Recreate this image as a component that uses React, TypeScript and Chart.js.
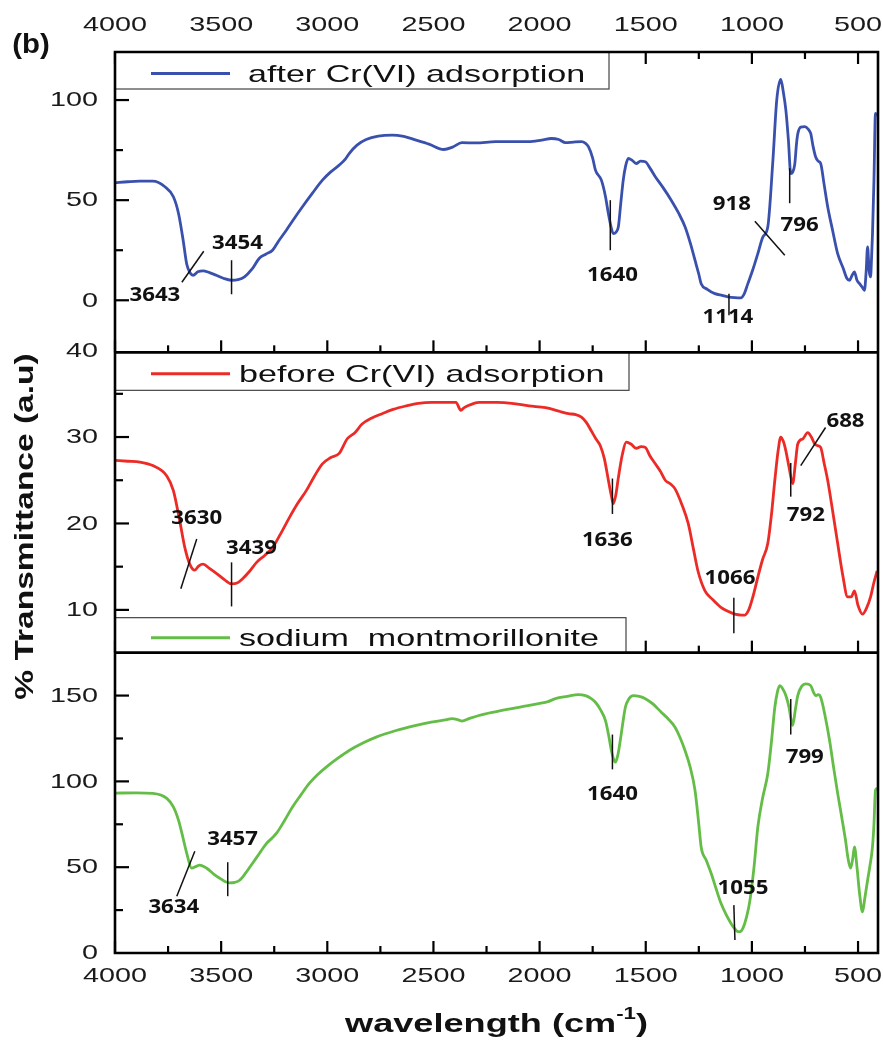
import { useEffect, useRef } from "react";
import { Chart, registerables } from "chart.js";
Chart.register(...registerables);

// ---------- data ----------
const wnAfter = [4000,3940,3883,3822,3765,3725,3700,3679,3662,3645,3632,3610,3585,3555,3523,3490,3453,3420,3390,3355,3320,3290,3258,3230,3193,3155,3117,3070,3023,2985,2944,2915,2897,2860,2817,2760,2695,2640,2582,2521,2451,2410,2366,2300,2207,2130,2052,1990,1944,1910,1878,1840,1803,1785,1770,1750,1737,1709,1690,1676,1662,1653,1640,1629,1618,1606,1595,1582,1565,1545,1525,1502,1480,1455,1420,1380,1345,1315,1290,1268,1250,1239,1210,1174,1140,1113,1080,1052,1035,1019,995,972,948,925,901,883,864,852,840,828,817,808,798,790,784,770,751,735,723,712,700,688,676,660,643,620,596,570,553,540,528,517,505,493,480,470,462,455,448,441,436,432,425,418,410];
const tAfter = [58.7,59.2,59.5,59.5,56.7,51.7,43,30,18,13.5,12.5,14.2,14.7,13.8,12.5,11,10,10.3,11.7,15.5,21,23,25,29.5,35,41,46.7,53.5,60,64,67.5,70.5,73.3,77.5,80.3,82,82.5,81.8,80,78,75.3,76.5,78.7,78.6,79.2,79.2,79.2,80,80.8,80.3,78.7,79,79.2,78.5,76.7,71,65,60,52,43.3,36,33.3,34,36.7,48,60,67,70.8,70,68.3,69.5,69.2,66,61.7,56.5,50,43.5,36.7,28.5,20,13,8.3,5.5,3.3,2.4,1.7,1.3,1.2,3.5,8.3,15.5,23.3,31.7,36.7,70,100,110.3,104,95,80,63.3,64,68,78,83,86.5,86.7,85.5,83.3,77,71.7,69.5,68.3,58,46.7,35,23.3,16,11,10,12.5,14.2,10,8.3,6.5,5,14,26.7,15,11.7,22,33,60,93.3,92];

const wnBefore = [4000,3940,3883,3822,3756,3725,3695,3671,3648,3624,3605,3585,3555,3521,3485,3451,3425,3399,3365,3333,3295,3258,3220,3178,3140,3099,3060,3023,2985,2944,2906,2870,2836,2790,2742,2690,2629,2570,2507,2450,2394,2371,2355,2330,2286,2200,2131,2050,1972,1910,1864,1830,1803,1780,1756,1735,1714,1695,1676,1662,1653,1641,1629,1610,1592,1570,1545,1522,1502,1480,1455,1430,1408,1385,1362,1330,1300,1275,1254,1221,1185,1146,1110,1080,1050,1033,1015,1005,990,972,950,925,908,892,876,864,852,840,825,808,795,784,760,737,720,704,690,676,660,643,620,596,572,549,532,517,500,479,460,441,425,410];
const tBefore = [27.3,27.2,27.1,26.7,25.5,23.8,20.3,17.2,15.3,14.6,15.1,15.3,14.8,14.2,13.5,13.0,13.1,13.6,14.5,15.5,16.3,17.2,18.8,20.7,22.3,23.8,25.5,26.9,27.6,28.1,29.8,30.5,31.5,32.2,32.7,33.2,33.6,33.9,34.0,34.0,34.0,33.1,33.4,33.7,34.0,34.0,33.9,33.6,33.4,33.0,32.7,32.6,32.3,31.7,30.7,29.8,29.0,27.5,25.0,23.2,22.3,23.3,25.3,28.0,29.4,29.2,28.7,28.9,28.8,27.8,26.9,26.0,25.0,24.6,24.0,22.2,20.0,17.0,14.5,12.2,11.2,10.3,9.8,9.5,9.4,9.4,10.0,10.7,12.0,13.8,15.8,17.7,21.0,25.0,28.5,30.0,29.5,28.4,26.5,24.6,27.0,29.2,29.8,30.5,30.0,29.2,29.0,28.8,27.0,25.0,21.5,17.7,14.0,11.5,11.5,12.2,10.5,9.5,10.2,11.5,13.2,14.5];

const wnNaMMT = [4000,3900,3822,3756,3725,3700,3685,3662,3639,3620,3601,3568,3535,3507,3480,3460,3435,3413,3385,3352,3320,3286,3260,3239,3200,3164,3125,3085,3045,3005,2950,2897,2830,2770,2680,2582,2510,2437,2413,2380,2366,2330,2286,2210,2131,2070,2005,1960,1925,1870,1817,1784,1760,1737,1712,1690,1675,1662,1650,1643,1632,1620,1608,1596,1580,1559,1530,1502,1465,1427,1395,1362,1340,1315,1290,1268,1250,1239,1215,1192,1170,1146,1120,1099,1080,1066,1055,1042,1025,1009,990,972,950,925,908,892,880,869,855,840,825,817,808,795,784,765,746,723,710,700,688,676,655,634,615,596,578,559,547,535,525,517,505,493,479,468,455,445,432,425,418,410];
const tNaMMT = [93.2,93.3,93.0,90.1,85.1,77,69.8,58.1,49.4,50.3,51.2,49.4,46,43.6,41.5,40.9,41.2,42.4,46.5,52.3,58,63.9,67,69.8,77.5,85.1,92,98.8,104,108.3,113.5,118.0,122.5,125.8,129.5,132.6,134.5,136.0,136.6,135.7,135.1,136.7,138.4,140.5,142.4,143.8,145.3,146.5,148.2,149.5,150.6,150,148.5,146.1,141.5,135.5,127,118,112.5,111.2,115,123.8,134,143.2,148,150,149.5,148.2,145,140.3,136.5,131.6,126,118,108,94.8,75,61.8,54,46.5,38,29.1,22,17.4,14,12.4,12.5,14.5,21,30.8,50,73.4,90,104.6,123,143.2,152,155.8,154,150,143,137,132.6,142,150,155.5,156.8,155.8,152,150,150.5,149,138,123.8,108,93,80,65.7,55,49.4,55,61.8,50,34.9,24,32,42.4,50,61.8,75,94.8,96];

const seriesNames = ["after Cr(VI) adsorption", "before Cr(VI) adsorption", "sodium  montmorillonite"];

// axis ranges and ticks
const X_MAX = 4000;
const X_MIN = 406;
const xMajorTicks = [4000, 3500, 3000, 2500, 2000, 1500, 1000, 500];
const xMinorTicks = [3750, 3250, 2750, 2250, 1750, 1250, 750];
const yTopRange = [-26, 124];
const yMidRange = [5.05, 39.8];
const yBotRange = [0, 175];
const yTopMajor = [0, 50, 100];
const yTopMinor = [25, 75];
const yMidMajor = [10, 20, 30, 40];
const yMidMinor = [15, 25, 35];
const yBotMajor = [0, 50, 100, 150];
const yBotMinor = [25, 75, 125];

// peak annotations (label text, label anchor [wn, value], leader line [wn1, v1, wn2, v2])
const annTopText = ["3643", "3454", "1640", "1114", "918", "796"];
const annTopAt = [[3812, 2.5], [3423, 28.5], [1657, 12.5], [1113, -8.5], [1094, 48], [775, 37.5]];
const annTopLine = [[3685, 9, 3582, 24.5], [3451, 20, 3451, 3], [1667, 50, 1667, 25], [1108, 3.3, 1108, -7.5], [986, 39.5, 845, 22.5], [822, 66, 822, 48.5]];
const annMidText = ["3630", "3439", "1636", "1066", "792", "688"];
const annMidAt = [[3615, 20.6], [3357, 17.1], [1681, 18.0], [1103, 13.6], [746, 20.9], [559, 31.8]];
const annMidLine = [[3690, 12.45, 3615, 18.2], [3451, 15.5, 3451, 10.4], [1657, 25.2, 1657, 21.1], [1085, 11.4, 1085, 7.3], [817, 27.0, 817, 23.1], [770, 26.7, 653, 31.1]];
const annBotText = ["3457", "3634", "1640", "1055", "799"];
const annBotAt = [[3446, 66.3], [3723, 26.7], [1657, 92.4], [1042, 37.8], [751, 114]];
const annBotLine = [[3469, 52.9, 3469, 33.1], [3709, 33.1, 3624, 59.3], [1657, 127.3, 1657, 107], [1085, 27.9, 1080, 7.6], [817, 148, 817, 127.3]];

const BLUE = "#3a50ad";
const RED = "#ec2b27";
const GREEN = "#64bd46";

function pts(xs: number[], ys: number[]) {
  return xs.map((x, i) => ({ x, y: ys[i] }));
}

function sText(ctx: CanvasRenderingContext2D, text: string, x: number, y: number, font: string, sx: number, align: CanvasTextAlign = "center", baseline: CanvasTextBaseline = "middle", rot = 0) {
  ctx.save();
  ctx.translate(x, y);
  if (rot) ctx.rotate(rot);
  ctx.scale(sx, 1);
  ctx.font = font;
  ctx.textAlign = align;
  ctx.textBaseline = baseline;
  ctx.fillText(text, 0, 0);
  ctx.restore();
}

const decoPlugin = {
  id: "deco",
  afterDraw(chart: any) {
    const ctx: CanvasRenderingContext2D = chart.ctx;
    const xs = chart.scales.x;
    const yT = chart.scales.yTop, yM = chart.scales.yMid, yB = chart.scales.yBot;
    const L = chart.chartArea.left, R = chart.chartArea.right;
    const panels = [yT, yM, yB];
    ctx.save();
    ctx.strokeStyle = "#000";
    ctx.lineCap = "butt";
    // x ticks
    const edges: [number, number][] = [[yT.top, 1], [yT.bottom, -1], [yM.bottom, -1], [yB.bottom, -1]];
    ctx.lineWidth = 2.2;
    for (const [ey, dir] of edges) {
      for (const v of xMajorTicks) {
        const px = xs.getPixelForValue(v);
        ctx.beginPath(); ctx.moveTo(px, ey); ctx.lineTo(px, ey + dir * 12); ctx.stroke();
      }
      for (const v of xMinorTicks) {
        const px = xs.getPixelForValue(v);
        ctx.beginPath(); ctx.moveTo(px, ey); ctx.lineTo(px, ey + dir * 7); ctx.stroke();
      }
    }
    // y ticks
    const yMaj = [yTopMajor, yMidMajor, yBotMajor];
    const yMin = [yTopMinor, yMidMinor, yBotMinor];
    panels.forEach((s, i) => {
      for (const v of yMaj[i]) {
        const py = s.getPixelForValue(v);
        if (py < s.top + 3 || py > s.bottom - 1) continue;
        ctx.beginPath(); ctx.moveTo(L, py); ctx.lineTo(L + 14, py); ctx.stroke();
      }
      for (const v of yMin[i]) {
        const py = s.getPixelForValue(v);
        ctx.beginPath(); ctx.moveTo(L, py); ctx.lineTo(L + 8, py); ctx.stroke();
      }
    });
    // legend boxes
    const legBoxes = [
      { top: yT.top, h: 37, right: 609, color: BLUE, textX: 248 },
      { top: yM.top, h: 38, right: 629, color: RED, textX: 239 },
      { top: yM.bottom - 35, h: 35, right: 626, color: GREEN, textX: 239 },
    ];
    legBoxes.forEach((b, i) => {
      ctx.fillStyle = "#fff";
      ctx.fillRect(L, b.top, b.right - L, b.h);
      ctx.lineWidth = 1.2;
      ctx.strokeStyle = "#444";
      ctx.strokeRect(L, b.top, b.right - L, b.h);
      ctx.strokeStyle = b.color;
      ctx.lineWidth = 3;
      const ly = b.top + (i === 2 ? 20 : 21.5);
      ctx.beginPath(); ctx.moveTo(151, ly); ctx.lineTo(230, ly); ctx.stroke();
      ctx.fillStyle = "#111";
      sText(ctx, seriesNames[i], b.textX, b.top + (i === 2 ? 28 : 30), "24px 'Liberation Sans', Arial, sans-serif", 1.42, "left", "alphabetic");
    });
    // frame
    ctx.strokeStyle = "#000";
    ctx.lineWidth = 2.6;
    ctx.beginPath();
    ctx.moveTo(L, yT.top - 1.3); ctx.lineTo(L, yB.bottom + 1.3);
    ctx.moveTo(R, yT.top - 1.3); ctx.lineTo(R, yB.bottom + 1.3);
    for (const ey of [yT.top, yT.bottom, yM.bottom, yB.bottom]) {
      ctx.moveTo(L, ey); ctx.lineTo(R, ey);
    }
    ctx.stroke();
    // annotations
    const annText = [annTopText, annMidText, annBotText];
    const annAt = [annTopAt, annMidAt, annBotAt];
    const annLine = [annTopLine, annMidLine, annBotLine];
    ctx.lineWidth = 1.5;
    ctx.strokeStyle = "#111";
    ctx.fillStyle = "#111";
    panels.forEach((s, i) => {
      annLine[i].forEach((ln) => {
        ctx.beginPath();
        ctx.moveTo(xs.getPixelForValue(ln[0]), s.getPixelForValue(ln[1]));
        ctx.lineTo(xs.getPixelForValue(ln[2]), s.getPixelForValue(ln[3]));
        ctx.stroke();
      });
      annText[i].forEach((t, k) => {
        const p = annAt[i][k];
        sText(ctx, t, xs.getPixelForValue(p[0]), s.getPixelForValue(p[1]), "bold 19px 'Open Sans', 'Liberation Sans', sans-serif", 1.17);
      });
    });
    // tick labels
    ctx.fillStyle = "#1a1a1a";
    const tickFont = "21px 'Liberation Sans', Arial, sans-serif";
    for (const v of xMajorTicks) {
      const px = xs.getPixelForValue(v);
      sText(ctx, String(v), px, yT.top - 27, tickFont, 1.37);
      sText(ctx, String(v), px, yB.bottom + 23, tickFont, 1.37);
    }
    panels.forEach((s, i) => {
      for (const v of yMaj[i]) {
        sText(ctx, String(v), 98, s.getPixelForValue(v) + 0.5, tickFont, 1.37, "right");
      }
    });
    // titles
    ctx.fillStyle = "#111";
    sText(ctx, "% Transmittance (a.u)", 26, (yT.top + yB.bottom) / 2 + 24, "bold 25px 'Liberation Sans', Arial, sans-serif", 1.34, "center", "middle", -Math.PI / 2);
    // x title with superscript
    const mainFont = "bold 26px 'Liberation Sans', Arial, sans-serif";
    const supFont = "bold 16px 'Liberation Sans', Arial, sans-serif";
    const sx = 1.39;
    ctx.font = mainFont;
    const w1 = ctx.measureText("wavelength (cm").width * sx;
    const w3 = ctx.measureText(")").width * sx;
    ctx.font = supFont;
    const w2 = ctx.measureText("-1").width * sx;
    const total = w1 + w2 + w3;
    const cx = (L + R) / 2;
    const x0 = cx - total / 2;
    const base = yB.bottom + 79;
    sText(ctx, "wavelength (cm", x0, base, mainFont, sx, "left", "alphabetic");
    sText(ctx, "-1", x0 + w1, base - 13, supFont, sx, "left", "alphabetic");
    sText(ctx, ")", x0 + w1 + w2, base, mainFont, sx, "left", "alphabetic");
    sText(ctx, "(b)", 31, 45, "bold 28px 'Liberation Sans', Arial, sans-serif", 1.05);
    ctx.restore();
  },
};

export default function App() {
  const ref = useRef<HTMLCanvasElement>(null);
  useEffect(() => {
    const yCommon = (range: number[]) => ({
      type: "linear" as const,
      position: "left" as const,
      stack: "panels",
      stackWeight: 1,
      min: range[0],
      max: range[1],
      bounds: "data" as const,
      ticks: { display: false },
      grid: { display: false, drawTicks: false },
      border: { display: false },
      afterFit: (s: any) => { s.width = 115; },
    });
    const common = { pointRadius: 0, borderWidth: 2.8, cubicInterpolationMode: "monotone" as const, fill: false, xAxisID: "x" };
    const chart = new Chart(ref.current!, {
      type: "line",
      data: {
        datasets: [
          { ...common, label: seriesNames[0], data: pts(wnAfter, tAfter), yAxisID: "yTop", borderColor: BLUE },
          { ...common, label: seriesNames[1], data: pts(wnBefore, tBefore), yAxisID: "yMid", borderColor: RED },
          { ...common, label: seriesNames[2], data: pts(wnNaMMT, tNaMMT), yAxisID: "yBot", borderColor: GREEN },
        ],
      },
      options: {
        animation: false,
        responsive: false,
        devicePixelRatio: 1,
        layout: { padding: { top: 52, right: 5, bottom: 0, left: 0 } },
        plugins: { legend: { display: false }, tooltip: { enabled: false } },
        events: [],
        scales: {
          x: {
            type: "linear",
            position: "bottom",
            reverse: true,
            min: X_MIN,
            max: X_MAX,
            bounds: "data",
            ticks: { display: false },
            grid: { display: false, drawTicks: false },
            border: { display: false },
            afterFit: (s: any) => { s.height = 88; },
          },
          yBot: yCommon(yBotRange),
          yMid: yCommon(yMidRange),
          yTop: yCommon(yTopRange),
        } as any,
      },
      plugins: [decoPlugin],
    });
    return () => chart.destroy();
  }, []);
  return (
    <div style={{ position: "fixed", left: 0, top: 0, width: 883, height: 1041, background: "#fff" }}>
      <canvas ref={ref} width={883} height={1041} style={{ display: "block" }} />
    </div>
  );
}
